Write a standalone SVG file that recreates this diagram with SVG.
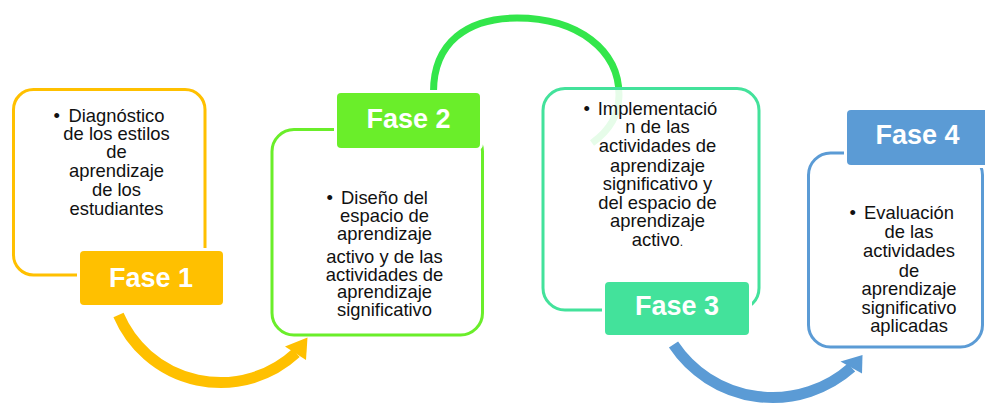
<svg xmlns="http://www.w3.org/2000/svg" width="985" height="404" viewBox="0 0 985 404">
<style>
.body{font-family:"Liberation Sans",Arial,sans-serif;font-size:18.4px;fill:#111;text-anchor:middle}
.bul{font-family:"Liberation Sans",Arial,sans-serif;font-size:18.4px;fill:#111}
.lab{font-family:"Liberation Sans",Arial,sans-serif;font-size:27px;font-weight:bold;fill:#fff;text-anchor:middle}
.box{stroke-width:3}
.tag{stroke:#fff;stroke-width:6;paint-order:stroke}
</style>
<rect width="985" height="404" fill="#fff"/>
<g id="connectors" fill="none">
  <path d="M433.5,93 C433,42 468,18 517,18 C578,18 619,50 619,95 C619,115 609,131 592,143" stroke="#33E64B" stroke-width="7"/>
  <path d="M118.5,315 A111,111 0 0,0 296,353" stroke="#FFC000" stroke-width="11"/>
  <polygon points="285,346.5 307.5,337.5 306,360" fill="#FFC000"/>
  <path d="M673.5,344.5 A119,119 0 0,0 851.5,367.5" stroke="#5B9BD5" stroke-width="11"/>
  <polygon points="840.5,361.5 862.5,355 862,373.5" fill="#5B9BD5"/>
</g>
<g id="fase1">
  <rect class="box" x="13.5" y="89.5" width="191.5" height="185.5" rx="20" fill="#fff" stroke="#FFC000"/>
  <rect class="tag" x="80" y="251" width="143" height="54" rx="4" fill="#FFC000"/>
  <text class="lab" x="151" y="286.5">Fase 1</text>
  <text class="bul" x="53.5" y="122">•</text>
  <text class="body" x="116.5" y="122">Diagnóstico</text>
  <text class="body" x="116.5" y="139.5">de los estilos</text>
  <text class="body" x="116.5" y="157.5">de</text>
  <text class="body" x="116.5" y="177">aprendizaje</text>
  <text class="body" x="116.5" y="196">de los</text>
  <text class="body" x="116.5" y="215">estudiantes</text>
</g>
<g id="fase2">
  <rect class="box" x="272" y="129.5" width="210.5" height="205.5" rx="22" fill="#fff" stroke="#6AEE2A"/>
  <rect class="tag" x="337" y="93" width="143" height="55" rx="4" fill="#6AEE2A"/>
  <text class="lab" x="408.5" y="127.5">Fase 2</text>
  <text class="bul" x="326.5" y="204">•</text>
  <text class="body" x="384.5" y="204">Diseño del</text>
  <text class="body" x="384.5" y="221.5">espacio de</text>
  <text class="body" x="384.5" y="239.5">aprendizaje</text>
  <text class="body" x="384.5" y="263">activo y de las</text>
  <text class="body" x="384.5" y="280.5">actividades de</text>
  <text class="body" x="384.5" y="298">aprendizaje</text>
  <text class="body" x="384.5" y="316">significativo</text>
</g>
<g id="fase3">
  <rect class="box" x="543" y="88.5" width="216" height="221.5" rx="22" fill="#fff" fill-opacity="0.88" stroke="#43E29B"/>
  <rect class="tag" x="605" y="282" width="144" height="53" rx="4" fill="#43E29B"/>
  <text class="lab" x="677" y="315">Fase 3</text>
  <text class="bul" x="583.5" y="115">•</text>
  <text class="body" x="657.5" y="115">Implementació</text>
  <text class="body" x="657.5" y="133">n de las</text>
  <text class="body" x="657.5" y="151.5">actividades de</text>
  <text class="body" x="657.5" y="171.5">aprendizaje</text>
  <text class="body" x="657.5" y="190">significativo y</text>
  <text class="body" x="657.5" y="208.5">del espacio de</text>
  <text class="body" x="657.5" y="226.5">aprendizaje</text>
  <text class="body" x="657.5" y="246">activo<tspan font-size="12">.</tspan></text>
</g>
<g id="fase4">
  <rect class="box" x="808.5" y="153" width="174" height="194" rx="22" fill="#fff" stroke="#5B9BD5"/>
  <rect class="tag" x="847" y="110" width="141" height="55" rx="4" fill="#5B9BD5"/>
  <text class="lab" x="917.5" y="144">Fase 4</text>
  <text class="bul" x="849.5" y="219">•</text>
  <text class="body" x="909" y="219">Evaluación</text>
  <text class="body" x="909" y="237.5">de las</text>
  <text class="body" x="909" y="256.5">actividades</text>
  <text class="body" x="909" y="276.5">de</text>
  <text class="body" x="909" y="295">aprendizaje</text>
  <text class="body" x="909" y="313.5">significativo</text>
  <text class="body" x="909" y="331.5">aplicadas</text>
</g>
</svg>
